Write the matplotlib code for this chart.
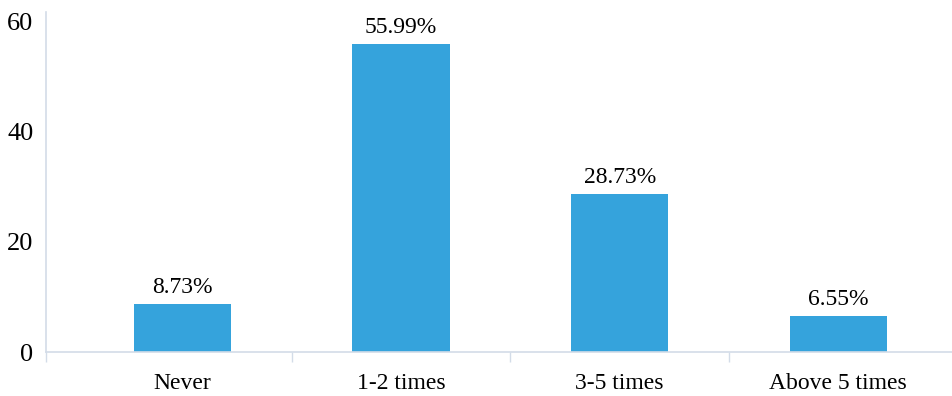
import numpy as np
import matplotlib.pyplot as plt
from matplotlib.ticker import FixedLocator

plt.rcParams['font.family'] = ['Liberation Serif', 'DejaVu Serif']

categories = ['Never', '1-2 times', '3-5 times', 'Above 5 times']
percent = [8.73, 55.99, 28.73, 6.55]
y_ticks = [0, 20, 40, 60]

bar_color = '#35A3DC'
axis_color = '#D3DCE8'

fig = plt.figure(figsize=(9.52, 3.96), dpi=100)
ax = fig.add_axes([0.0483, 0.111, 0.9517, 0.859])

x = np.arange(len(categories))
ax.bar(x, percent, width=0.445, color=bar_color, zorder=2)

for xi, v in zip(x, percent):
    ax.text(xi, v + 1.1, f'{v:.2f}%', ha='center', va='bottom', fontsize=17)

ax.set_xlim(-0.624, 3.52)
ax.set_ylim(0, 61.8)

ax.set_xticks(x)
ax.set_xticklabels(categories, fontsize=17)
ax.xaxis.set_minor_locator(FixedLocator([-0.624, 0.5, 1.5, 2.5]))
ax.tick_params(axis='x', which='major', length=0, pad=15)
ax.tick_params(axis='x', which='minor', length=7, width=1, color=axis_color)

ax.set_yticks(y_ticks)
ax.set_yticklabels([str(t) for t in y_ticks], fontsize=19)
ax.tick_params(axis='y', length=0, pad=9)

for side in ['top', 'right']:
    ax.spines[side].set_visible(False)
for side in ['left', 'bottom']:
    ax.spines[side].set_color(axis_color)
    ax.spines[side].set_linewidth(1.2)

fig.savefig('out.png', dpi=100)
